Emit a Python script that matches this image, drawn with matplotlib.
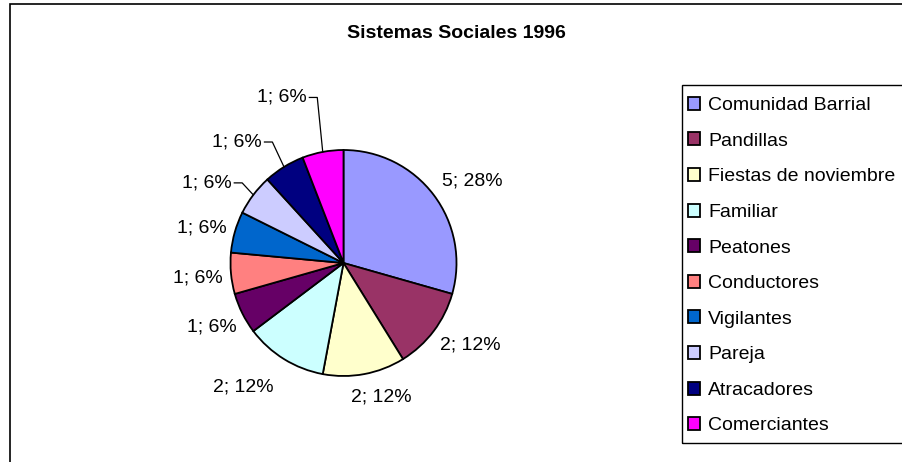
import numpy as np
import matplotlib
matplotlib.use("Agg")
import matplotlib.pyplot as plt
from matplotlib.patches import Rectangle

plt.rcParams['font.family'] = ['Liberation Sans', 'DejaVu Sans']

# data
categories = ["Comunidad Barrial", "Pandillas", "Fiestas de noviembre", "Familiar",
              "Peatones", "Conductores", "Vigilantes", "Pareja", "Atracadores",
              "Comerciantes"]
counts = [5, 2, 2, 2, 1, 1, 1, 1, 1, 1]
percents = [28, 12, 12, 12, 6, 6, 6, 6, 6, 6]   # as printed on the chart

colors = ["#9999FF", "#993366", "#FFFFCC", "#CCFFFF", "#660066",
          "#FF8080", "#0066CC", "#CCCCFF", "#000080", "#FF00FF"]

# label placement (polar, in pie radii / degrees), leader lines for last three
lab_r = [1.35, 1.34, 1.23, 1.41, 1.29, 1.30, 1.29, 1.215, 1.29, 1.50]
lab_ang = [32.6, -32.8, -74.4, -128.8, -154.1, -174.1, 166.1, 144.3, 123.9, 102.4]
leader = [False] * 7 + [True] * 3

W, H = 902, 462
fig = plt.figure(figsize=(W / 100, H / 100), dpi=100)
fig.patch.set_facecolor("white")

# outer chart border
fig.add_artist(Rectangle((10 / W, -0.05), 1.2, 1.05 - 4 / H, transform=fig.transFigure,
                         fill=False, edgecolor="black", lw=1.2))

fig.text(456 / W, 1 - 33 / H, "Sistemas Sociales 1996", ha="center", va="center",
         fontsize=14, fontweight="bold")

cx, cy, R = 343.5, 263, 113
ax = fig.add_axes([(cx - R) / W, (H - cy - R) / H, 2 * R / W, 2 * R / H])
wedges, _ = ax.pie(counts, colors=colors, startangle=90, counterclock=False, radius=1,
                   wedgeprops=dict(edgecolor="black", linewidth=1.3))
ax.set_xlim(-1, 1)
ax.set_ylim(-1, 1)
ax.set_aspect("equal")
ax.axis("off")

for w, n, p, r, a, ld in zip(wedges, counts, percents, lab_r, lab_ang, leader):
    txt = f"{n}; {p}%"
    x, y = r * np.cos(np.radians(a)), r * np.sin(np.radians(a))
    if not ld:
        ax.text(x, y, txt, ha="center", va="center", fontsize=14)
    else:
        ax.text(x, y, txt, ha="right", va="center", fontsize=14)
        mid = np.radians((w.theta1 + w.theta2) / 2)
        ex, ey = np.cos(mid), np.sin(mid)
        ax.plot([x + 0.02, x + 0.09, ex], [y, y, ey], color="black", lw=0.9,
                clip_on=False)

# legend box (runs off the right edge like the original)
fig.add_artist(Rectangle((681.5 / W, 1 - 442.5 / H), 0.5, (442.5 - 85) / H,
                         transform=fig.transFigure, fill=False,
                         edgecolor="black", lw=1.0))
fig.legend(wedges, categories, loc="upper left",
           bbox_to_anchor=(681 / W, 1 - 90 / H), borderaxespad=0,
           fontsize=14, frameon=False,
           handlelength=0.65, handleheight=0.65, handletextpad=0.4,
           labelspacing=0.94, borderpad=0.35)

fig.savefig("out.png", dpi=100)
